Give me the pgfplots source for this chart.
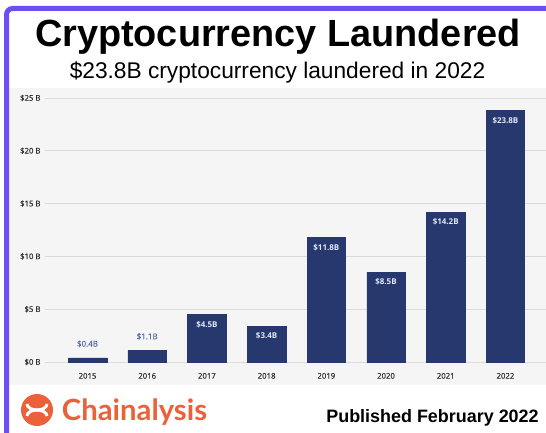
\documentclass[border=0pt]{standalone}
\usepackage{pgfplots}
\pgfplotsset{compat=1.18}
\usepackage{fontspec}
\setmainfont{Liberation Sans}
\newfontfamily\osans[FakeBold=0.6]{Open Sans}
\newfontfamily\osansb{Open Sans}
\newfontfamily\logofont{Lato}
\definecolor{barblue}{RGB}{38,56,110}
\definecolor{framepurple}{RGB}{108,77,246}
\definecolor{logoorange}{RGB}{236,96,58}
\definecolor{plotbg}{RGB}{245,245,245}
\definecolor{gridgray}{RGB}{218,218,218}
\definecolor{ticktext}{RGB}{50,50,50}
\definecolor{smalllab}{RGB}{90,110,165}
\definecolor{inlab}{RGB}{225,231,245}
\begin{document}
\begin{tikzpicture}[x=1bp,y=1bp]
\path[use as bounding box, fill=white] (0,0) rectangle (546,432);
\fill[plotbg] (9,47) rectangle (546,344);
\begin{axis}[
  at={(45bp,70bp)}, anchor=south west,
  scale only axis, width=501bp, height=264bp,
  xmin=-0.712, xmax=7.68, ymin=0, ymax=25,
  enlargelimits=false,
  axis line style={draw=none},
  major tick length=0pt,
  ytick={0,5,10,15,20,25},
  yticklabels={\$0 B,\$5 B,\$10 B,\$15 B,\$20 B,\$25 B},
  xtick={0,...,7},
  xticklabels={2015,2016,2017,2018,2019,2020,2021,2022},
  ymajorgrids, grid style={gridgray, line width=0.9bp},
  tick label style={font=\osans\fontsize{7.8}{9}\selectfont, text=ticktext},
  yticklabel style={xshift=-1bp},
  xticklabel style={yshift=-7.5bp},
  ybar, bar width=38.5bp, bar shift=0pt,
  point meta=explicit symbolic,
  nodes near coords,
]
\addplot[fill=barblue, draw=barblue,
  every node near coord/.style={anchor=north, inner sep=0pt, yshift=-6.5bp,
    font=\osansb\bfseries\fontsize{8}{9}\selectfont, text=inlab}]
  coordinates {(2,4.5) [\$4.5B] (3,3.4) [\$3.4B] (4,11.8) [\$11.8B]
               (5,8.5) [\$8.5B] (6,14.2) [\$14.2B] (7,23.8) [\$23.8B]};
\addplot[fill=barblue, draw=barblue,
  every node near coord/.style={anchor=south, inner sep=0pt, yshift=10.5bp,
    font=\osans\fontsize{8}{9}\selectfont, text=smalllab}]
  coordinates {(0,0.4) [\$0.4B] (1,1.1) [\$1.1B]};
\end{axis}
% frame
\draw[framepurple, line width=5bp, rounded corners=6bp] (6.5,-10) -- (6.5,423.5) -- (560,423.5);
% titles
\node[anchor=base, inner sep=0pt] at (278,386) {\fontsize{38}{40}\selectfont\bfseries Cryptocurrency Laundered};
\node[anchor=base, inner sep=0pt] at (277.5,354) {\fontsize{22.8}{26}\selectfont \$23.8B cryptocurrency laundered in 2022};
\node[anchor=base, inner sep=0pt] at (432.5,10) {\fontsize{18}{20}\selectfont\bfseries Published February 2022};
% logo
\fill[logoorange] (37,22) circle (16);
\draw[white, line width=3bp] (27,28) arc (180:360:10 and 6);
\draw[white, line width=3bp] (47,16) arc (0:180:10 and 6);
\draw[white, line width=2.5bp] (30,22) -- (44,22);
\node[anchor=base, inner sep=0pt, text=logoorange] at (134.5,12)
  {\resizebox{145bp}{!}{\logofont\bfseries Chainalysis}};
\end{tikzpicture}
\end{document}
